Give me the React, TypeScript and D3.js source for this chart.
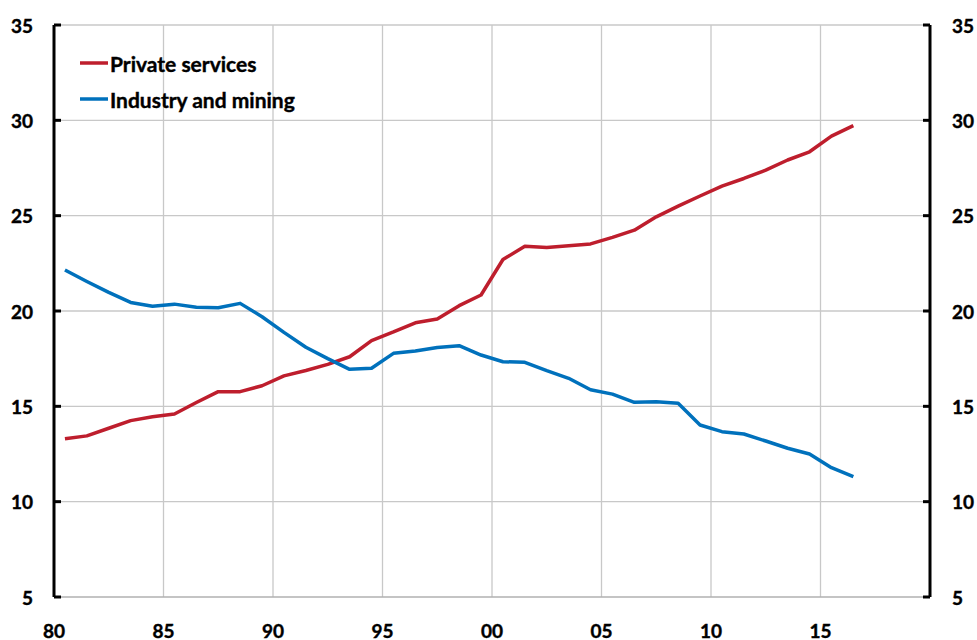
import React from "react";
import * as d3 from "d3";

const years: number[] = d3.range(1980.5, 2017, 1);
const privateServices: number[] = [
  13.3, 13.45, 13.85, 14.25, 14.45, 14.6, 15.2, 15.77, 15.77, 16.08,
  16.6, 16.88, 17.2, 17.6, 18.45, 18.9, 19.38, 19.58, 20.28, 20.84,
  22.7, 23.4, 23.33, 23.42, 23.52, 23.86, 24.24, 24.94, 25.5, 26.03,
  26.55, 26.95, 27.39, 27.92, 28.35, 29.17, 29.72,
];
const industryMining: number[] = [
  22.15, 21.55, 20.98, 20.45, 20.25, 20.36, 20.2, 20.17, 20.4, 19.7,
  18.88, 18.1, 17.5, 16.94, 17.0, 17.78, 17.9, 18.09, 18.18, 17.69,
  17.34, 17.31, 16.87, 16.47, 15.87, 15.64, 15.21, 15.24, 15.16, 14.02,
  13.67, 13.55, 13.18, 12.8, 12.5, 11.78, 11.31,
];
const xTicks: number[] = [1980, 1985, 1990, 1995, 2000, 2005, 2010, 2015];
const xTickLabels: string[] = ["80", "85", "90", "95", "00", "05", "10", "15"];
const yTicks: number[] = [5, 10, 15, 20, 25, 30, 35];
const seriesNames: string[] = ["Private services", "Industry and mining"];
const seriesColors: string[] = ["#BE1E2D", "#0071BC"];

export default function App() {
  const W = 977, H = 640;
  const left = 54, right = 930, top = 25, bottom = 597;
  const x = d3.scaleLinear().domain([1980, 2020]).range([left, right]);
  const y = d3.scaleLinear().domain([5, 35]).range([bottom, top]);
  const line = d3
    .line<number>()
    .x((_, i) => x(years[i]))
    .y((d) => y(d));
  const font = "Lato, 'Open Sans', sans-serif";
  const series = [privateServices, industryMining];
  return (
    <svg
      width={W}
      height={H}
      style={{ position: "absolute", left: 0, top: 0, background: "#fff" }}
      fontFamily={font}
      fontWeight="bold"
    >
      {/* grid */}
      {yTicks.slice(1).map((t) => (
        <line key={"gy" + t} x1={left} x2={right} y1={y(t)} y2={y(t)} stroke="#c8c8c8" strokeWidth={1.3} />
      ))}
      {xTicks.slice(1).map((t) => (
        <line key={"gx" + t} x1={x(t)} x2={x(t)} y1={top} y2={bottom} stroke="#c8c8c8" strokeWidth={1.3} />
      ))}
      <line x1={left} x2={right} y1={bottom} y2={bottom} stroke="#b0b0b0" strokeWidth={1.3} />
      {/* axes */}
      <line x1={left} x2={left} y1={top} y2={bottom} stroke="#000" strokeWidth={3} />
      <line x1={right} x2={right} y1={top} y2={bottom} stroke="#000" strokeWidth={3} />
      {yTicks.map((t) => (
        <g key={"yt" + t}>
          <line x1={left} x2={left + 7} y1={y(t)} y2={y(t)} stroke="#000" strokeWidth={3} />
          <line x1={right - 7} x2={right} y1={y(t)} y2={y(t)} stroke="#000" strokeWidth={3} />
          <text x={33} y={y(t)} textAnchor="end" dominantBaseline="central" fontSize={19} stroke="#000" strokeWidth={0.4}>
            {t}
          </text>
          <text x={952} y={y(t)} textAnchor="start" dominantBaseline="central" fontSize={19} stroke="#000" strokeWidth={0.4}>
            {t}
          </text>
        </g>
      ))}
      {xTicks.map((t, i) => (
        <text key={"xt" + t} x={x(t)} y={630} textAnchor="middle" dominantBaseline="central" fontSize={19} stroke="#000" strokeWidth={0.4}>
          {xTickLabels[i]}
        </text>
      ))}
      {/* series */}
      {series.map((s, i) => (
        <path key={"s" + i} d={line(s) || ""} fill="none" stroke={seriesColors[i]} strokeWidth={3.5} strokeLinejoin="round" />
      ))}
      {/* legend */}
      {seriesNames.map((n, i) => (
        <g key={"lg" + i} transform={`translate(80, ${63 + i * 36})`}>
          <line x1={0} x2={28} y1={0} y2={0} stroke={seriesColors[i]} strokeWidth={3.5} />
          <text x={30} y={0} dominantBaseline="central" fontSize={21} stroke="#000" strokeWidth={0.4}>
            {n}
          </text>
        </g>
      ))}
    </svg>
  );
}
